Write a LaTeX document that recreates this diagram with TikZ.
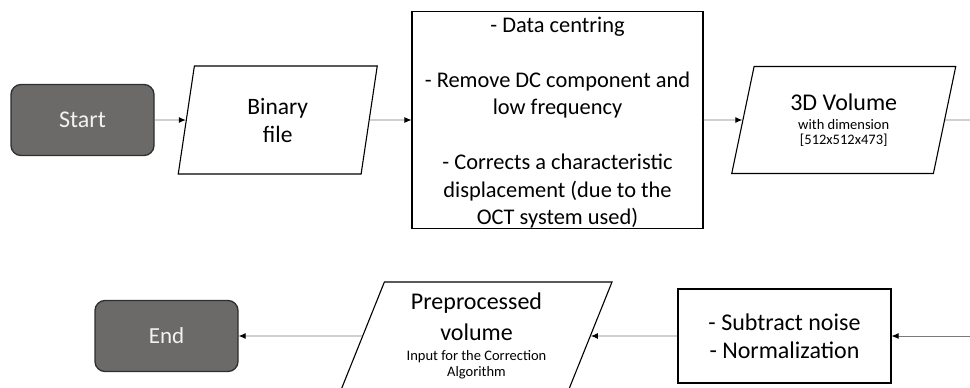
\documentclass[tikz,border=0pt]{standalone}
\usepackage{fontspec}
\setmainfont{Carlito}
\usetikzlibrary{shapes.geometric,arrows.meta}
\definecolor{termfill}{HTML}{6C6A69}
\definecolor{termdraw}{HTML}{2E2E2E}
\definecolor{termtext}{HTML}{F2F2F2}
\definecolor{conncol}{HTML}{7A7A7A}
\newcommand\tightlines{\lineskiplimit=-100pt\relax}
\begin{document}
\begin{tikzpicture}[x=1pt,y=-1pt,
  terminal/.style={rectangle, rounded corners=10pt, fill=termfill, draw=termdraw,
    line width=1.3pt, text=termtext, minimum width=143pt, minimum height=71pt,
    inner sep=0pt},
  procbox/.style={rectangle, draw=black, line width=1.1pt, inner sep=0pt},
  iobox/.style 2 args={trapezium, trapezium left angle=#1, trapezium right angle=#2,
    draw=black, line width=1.1pt, inner sep=0pt, trapezium stretches body},
  txt/.style={align=center, inner sep=0pt},
  conn/.style={draw=conncol, line width=0.9pt, -{Latex[length=7pt,width=6pt,black]}},
  plainconn/.style={draw=conncol, line width=0.9pt},
]
\useasboundingbox (0,0) rectangle (970,388);
\clip (0,0) rectangle (970,388);

% top row
\node[terminal, font=\fontsize{24}{28}\selectfont] (start) at (82.5,120) {Start};
\node[iobox={70}{110}, minimum width=199pt, minimum height=108pt, txt,
  font=\tightlines\fontsize{23.5}{28}\selectfont] (bin) at (277.75,120) {Binary\\file};
\node[procbox, minimum width=291pt, minimum height=217pt] (prep) at (557.5,120) {};
\node[txt, font=\tightlines\fontsize{22.4}{27.5}\selectfont] (preptext) at (557.5,122.5)
  {- Data centring\\[27.5pt]- Remove DC component and\\low frequency\\[27.5pt]- Corrects a characteristic\\displacement (due to the\\OCT system used)};
\node[iobox={67}{113}, minimum width=224pt, minimum height=107pt, txt,
  font=\tightlines\fontsize{14.5}{15}\selectfont] (vol) at (843.75,120)
  {{\fontsize{24}{28}\selectfont 3D Volume}\\[4pt]with dimension\\{[}512x512x473{]}};
\coordinate (volout) at (980,120);

% bottom row
\coordinate (noisein) at (980,336);
\node[procbox, minimum width=213pt, minimum height=94pt, txt,
  font=\tightlines\fontsize{24}{28}\selectfont] (noise) at (784.5,336)
  {- Subtract noise\\- Normalization};
\node[iobox={63.4}{116.6}, minimum width=271pt, minimum height=108pt, txt,
  font=\tightlines\fontsize{14.5}{16.5}\selectfont] (pre) at (476.5,336)
  {{\fontsize{24}{28}\selectfont Preprocessed}\\[14.5pt]{\fontsize{24}{28}\selectfont volume}\\[3.5pt]Input for the Correction\\Algorithm};
\node[terminal, font=\fontsize{23}{28}\selectfont] (end) at (166.5,336) {End};

% connectors
\draw[conn] (start) -- (bin);
\draw[conn] (bin) -- (prep);
\draw[conn] (prep) -- (vol);
\draw[plainconn] (vol) -- (volout);
\draw[conn] (noisein) -- (noise);
\draw[conn] (noise) -- (pre);
\draw[conn] (pre) -- (end);
\end{tikzpicture}
\end{document}
